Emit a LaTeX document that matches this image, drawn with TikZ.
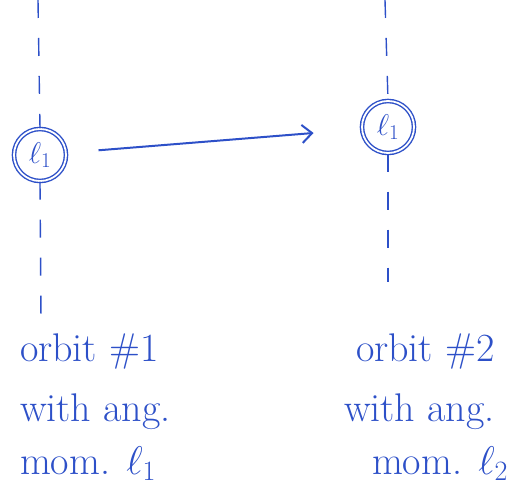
\RequirePackage{fix-cm}
\documentclass[tikz,border=0pt]{standalone}
\usepackage{amsmath}
\usepackage{tikz}
\usetikzlibrary{arrows.meta}
\definecolor{ink}{RGB}{45,80,200}

\begin{document}
\begin{tikzpicture}[x=1pt,y=-1pt,ink,line width=1.4pt,
    orb/.style={circle,draw,double,double distance=1.8pt,minimum size=52pt,inner sep=0pt,font=\fontsize{30}{30}\selectfont},
    path/.style={dash pattern=on 18pt off 20pt},
    note/.style={anchor=west,font=\fontsize{40}{44}\selectfont}]
    \useasboundingbox (0,0) rectangle (517,497);

    % The two circles with ang. mom.
    \node[orb] (orbA) at (40,155) {$\ell_1$};
    \node[orb] (orbB) at (388,127) {$\ell_1$};

    % Ends of the dashed orbits
    \coordinate (topA) at (38,0);
    \coordinate (botA) at (41,320);
    \coordinate (topB) at (385,0);
    \coordinate (botB) at (388,282);

    % Draw the orbits
    \draw[path] (topA) -- (orbA.north);
    \draw[path] (orbA.south) -- (botA);
    \draw[path] (topB) -- (orbB.north);
    \draw[path] (orbB.south) -- (botB);

    % Arrow from one orbit to the other
    \draw[-{Straight Barb[length=10pt,width=18pt]},line width=2pt,
        shorten <=32pt,shorten >=48pt] (orbA) -- (orbB);

    % Labels of orbit 1
    \node[note] (txtA1) at (16,352) {orbit \#1};
    \node[note] (txtA2) at (16,412) {with ang.};
    \node[note] (txtA3) at (16,464) {mom. $\ell_1$};

    % Labels of orbit 2
    \node[note] (txtB1) at (352,352) {orbit \#2};
    \node[note] (txtB2) at (340,412) {with ang.};
    \node[note] (txtB3) at (368,464) {mom. $\ell_2$};
\end{tikzpicture}
\end{document}
